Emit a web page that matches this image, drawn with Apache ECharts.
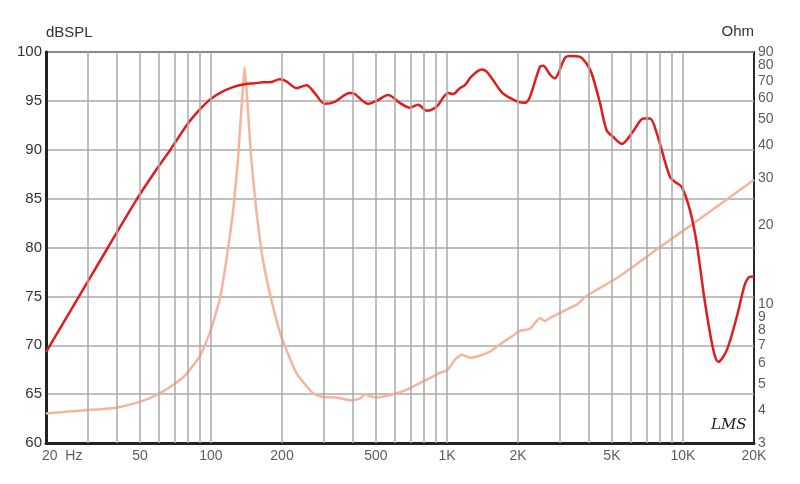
<!DOCTYPE html>
<html>
<head>
<meta charset="utf-8">
<script src="https://cdn.jsdelivr.net/npm/echarts@6/dist/echarts.min.js"></script>
<style>html,body{margin:0;padding:0;background:#fff}#c{width:800px;height:484px}</style>
</head>
<body>
<div id="c"></div>
<script>
// SPL response (Hz, dB)
var splFreq = [20,36.6,48.7,60,67.3,80,89.5,98.7,108.8,124,138.9,153.2,166.1,177.4,195.6,208.8,230.2,253.8,275.3,303.5,334.6,387.4,406.8,463.2,502.9,563.1,631.1,695.8,754.8,819.2,903.3,1012,1062,1134,1191,1271,1402,1472,1570,1704,1848,2004,2139,2246,2477,2559,2732,2868,2962,3162,3320,3660,3908,4104,4450,4750,5068,5500,6161,6792,7251,7743,8815,9411,9881,10715,11439,12409,13455,14125,15334,16904,18336,19251,20000];
var splDb = [69.3,80,85,88.3,90,92.7,94.1,95.1,95.8,96.4,96.7,96.8,96.9,96.9,97.2,97.0,96.3,96.6,95.8,94.7,94.9,95.8,95.7,94.7,95.0,95.6,94.8,94.3,94.6,94.0,94.4,95.8,95.7,96.3,96.6,97.5,98.2,98.0,97.1,95.9,95.3,94.9,94.8,95.4,98.5,98.6,97.7,97.3,97.8,99.4,99.6,99.5,98.8,97.8,94.8,92.0,91.3,90.6,91.9,93.2,93.2,91.7,87.2,86.6,86.2,83.8,80.4,74.3,69.5,68.3,69.5,72.9,76.3,77.0,77.0];
// Impedance (Hz, Ohm)
var impFreq = [20,29.6,39.7,49.8,58.7,69,78.1,89.5,98.7,108.8,116.2,124.2,130.1,134.5,138.9,143.5,148.3,155.7,166.1,180.3,198.9,230.2,270.8,298.5,340.2,387.4,427,448.5,470.9,502.9,572.4,674,819,933,1008,1080,1156,1250,1374,1520,1667,1848,2038,2246,2477,2598,2785,3071,3320,3587,3842,5411,7993,11815,20000];
var impOhm = [3.88,3.99,4.08,4.29,4.55,4.97,5.43,6.36,7.78,10.41,14.73,22.7,35.1,54.2,79.2,54.2,35.1,22.7,14.73,10.41,7.55,5.51,4.62,4.48,4.46,4.35,4.41,4.59,4.51,4.46,4.55,4.76,5.20,5.52,5.67,6.19,6.47,6.30,6.41,6.64,7.05,7.49,7.96,8.10,8.90,8.67,8.98,9.38,9.71,10.05,10.68,12.83,16.5,21.1,29.6];
// axis ticks
var xGridLines = [30,40,50,60,70,80,90,100,200,300,400,500,600,700,800,900,1000,2000,3000,4000,5000,6000,7000,8000,9000,10000];
var xTickValues = [20,50,100,200,500,1000,2000,5000,10000,20000];
var xTickLabels = ['20  Hz','50','100','200','500','1K','2K','5K','10K','20K'];
var ohmTicks = [90,80,70,60,50,40,30,20,10,9,8,7,6,5,4,3];

var font = 'Liberation Sans, Arial, sans-serif';
var chart = echarts.init(document.getElementById('c'));
chart.setOption({
  animation: false,
  backgroundColor: '#fff',
  grid: {left: 46, right: 46, top: 52, bottom: 41, show: true, borderColor: '#2a2a2a', borderWidth: 2},
  xAxis: {
    type: 'log', logBase: 10, min: 20, max: 20000,
    axisLine: {show: true, lineStyle: {color: '#222', width: 3}},
    axisTick: {show: false}, axisLabel: {show: false}, splitLine: {show: false}, minorSplitLine: {show: false}
  },
  yAxis: [{
    type: 'value', min: 60, max: 100, interval: 5,
    name: 'dBSPL', nameLocation: 'end', nameGap: 12,
    nameTextStyle: {align: 'left', color: '#333', fontSize: 15, fontFamily: font, padding: [0,0,0,0]},
    axisLine: {show: true, lineStyle: {color: '#222', width: 3}},
    axisTick: {show: false},
    axisLabel: {color: '#333', fontSize: 15, fontFamily: font, margin: 4},
    splitLine: {show: true, lineStyle: {color: '#aaa', width: 1.5}}
  }, {
    type: 'log', logBase: 10, min: 3, max: 90, position: 'right',
    name: 'Ohm', nameLocation: 'end', nameGap: 13,
    nameTextStyle: {align: 'right', color: '#333', fontSize: 15, fontFamily: font},
    axisLine: {show: false}, axisTick: {show: false}, axisLabel: {show: false}, splitLine: {show: false}
  }],
  graphic: [{
    type: 'text', left: 711, top: 418,
    style: {text: 'LMS', font: 'italic 15px "DejaVu Serif", serif', fill: '#222'}
  }],
  series: [
    {
      type: 'line', z: 1, data: [[20, 60]], showSymbol: false, silent: true,
      lineStyle: {opacity: 0},
      markLine: {
        silent: true, symbol: ['none', 'none'], animation: false,
        label: {show: false},
        lineStyle: {color: '#aaa', width: 1.5, type: 'solid'},
        data: xGridLines.map(function (v) { return {xAxis: v}; })
      }
    },
    {
      type: 'scatter', z: 5, silent: true, clip: false, symbolSize: 0,
      data: xTickValues.map(function (v, i) {
        var item = {value: [v, 60], label: {formatter: xTickLabels[i]}};
        if (i === 0) { item.label.align = 'left'; item.label.offset = [-4, 0]; }
        return item;
      }),
      label: {show: true, position: 'bottom', distance: 6, color: '#333', fontSize: 14, fontFamily: font}
    },
    {
      type: 'scatter', z: 5, silent: true, clip: false, symbolSize: 0, yAxisIndex: 1,
      data: ohmTicks.map(function (v) { return {value: [20000, v], label: {formatter: String(v)}}; }),
      label: {show: true, position: 'right', distance: 4, color: '#333', fontSize: 14, fontFamily: font}
    },
    {
      name: 'Impedance', type: 'line', z: 3, yAxisIndex: 1, showSymbol: false, smooth: 0.15,
      lineStyle: {color: '#f6b49c', width: 2.5},
      data: impFreq.map(function (f, i) { return [f, impOhm[i]]; })
    },
    {
      name: 'SPL', type: 'line', z: 4, showSymbol: false, smooth: 0.3,
      lineStyle: {color: '#e01c1c', width: 2.5},
      data: splFreq.map(function (f, i) { return [f, splDb[i]]; })
    }
  ]
});
</script>
</body>
</html>
